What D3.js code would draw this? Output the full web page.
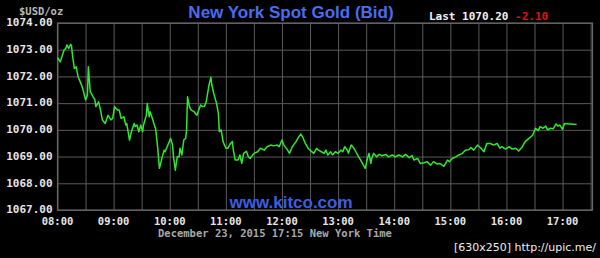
<!DOCTYPE html>
<html>
<head>
<meta charset="utf-8">
<script src="https://cdn.jsdelivr.net/npm/d3@7"></script>
<style>
  body { margin: 0; background: #000; }
  svg { display: block; }
  .mono { font-family: "DejaVu Sans Mono", monospace; font-weight: bold; }
</style>
</head>
<body>
<div id="chart"></div>
<script>
// Data (New York time, Dec 23 2015)
const times = [
  "08:00","08:03","08:07","08:09","08:10","08:12","08:14","08:15","08:16","08:18",
  "08:20","08:22","08:25","08:27","08:30","08:32","08:33","08:35","08:38","08:40",
  "08:41","08:44","08:46","08:48","08:51","08:54","08:57","08:59","09:01","09:04",
  "09:06","09:08","09:11","09:13","09:14","09:17","09:19","09:22","09:23","09:25",
  "09:27","09:29","09:31","09:32","09:35","09:36","09:38","09:39","09:42","09:43",
  "09:45","09:47","09:49","09:52","09:54","09:55","09:58","10:01","10:03","10:04",
  "10:06","10:08","10:10","10:11","10:13","10:15","10:17","10:18","10:19","10:21",
  "10:23","10:26","10:29","10:31","10:33","10:35","10:37","10:39","10:42","10:44",
  "10:45","10:47","10:50","10:52","10:53","10:55","10:57","11:00","11:02","11:05",
  "11:07","11:08","11:10","11:13","11:15","11:17","11:19","11:22","11:24","11:26",
  "11:30","11:34","11:37","11:41","11:44","11:48","11:51","11:55","11:57","12:00",
  "12:02","12:06","12:08","12:11","12:15","12:17","12:20","12:22","12:25","12:28",
  "12:30","12:34","12:37","12:39","12:42","12:45","12:47","12:49","12:52","12:54",
  "12:57","13:00","13:03","13:05","13:07","13:10","13:11","13:14","13:17","13:19",
  "13:22","13:25","13:27","13:29","13:31","13:33","13:35","13:36","13:38","13:41",
  "13:44","13:47","13:51","13:54","13:58","14:01","14:05","14:09","14:12","14:16",
  "14:19","14:21","14:25","14:28","14:32","14:35","14:39","14:42","14:46","14:49",
  "14:53","14:57","14:59","15:02","15:06","15:09","15:13","15:16","15:20","15:22",
  "15:25","15:29","15:32","15:36","15:39","15:43","15:46","15:50","15:53","15:55",
  "15:59","16:03","16:06","16:10","16:13","16:17","16:20","16:24","16:28","16:31",
  "16:34","16:36","16:39","16:42","16:44","16:47","16:50","16:53","16:55","16:57",
  "17:00","17:02","17:08","17:15"
];
const bids = [
  1072.70,1072.55,1072.99,1073.05,1073.18,1073.05,1073.20,1073.15,1072.80,1072.30,
  1072.36,1071.99,1071.74,1071.55,1071.12,1071.30,1072.36,1071.43,1071.24,1071.12,
  1070.87,1071.05,1070.74,1070.37,1070.24,1070.55,1070.37,1070.43,1070.87,1070.74,
  1070.74,1070.43,1070.49,1070.18,1070.24,1069.62,1069.93,1070.24,1070.12,1070.18,
  1069.93,1070.18,1069.93,1070.18,1070.55,1070.99,1070.49,1070.68,1070.37,1070.24,
  1070.03,1069.37,1068.56,1068.99,1069.24,1069.18,1069.43,1069.68,1069.43,1068.99,
  1068.49,1068.99,1068.99,1069.31,1069.06,1069.62,1069.68,1070.00,1071.24,1070.87,
  1070.74,1070.68,1070.55,1070.74,1070.93,1070.87,1070.87,1071.05,1071.68,1071.97,
  1071.68,1071.37,1071.00,1070.62,1069.93,1070.00,1069.56,1069.31,1069.31,1069.49,
  1069.56,1069.24,1068.87,1068.87,1069.06,1068.75,1069.12,1069.20,1068.99,1068.93,
  1069.12,1069.18,1069.31,1069.24,1069.37,1069.43,1069.40,1069.43,1069.37,1069.62,
  1069.43,1069.24,1069.12,1069.37,1069.56,1069.68,1069.84,1069.74,1069.49,1069.31,
  1069.24,1069.12,1069.31,1069.24,1069.18,1069.12,1069.24,1069.06,1069.18,1069.06,
  1069.18,1069.12,1069.24,1069.18,1069.37,1069.24,1069.12,1069.43,1069.31,1069.18,
  1068.99,1068.81,1068.68,1068.56,1068.87,1069.12,1068.75,1068.93,1069.12,1068.99,
  1069.08,1069.03,1069.08,1068.99,1069.06,1068.99,1069.06,1068.99,1069.08,1068.96,
  1069.04,1068.87,1068.93,1068.74,1068.77,1068.81,1068.68,1068.81,1068.72,1068.74,
  1068.63,1068.87,1068.81,1068.93,1068.99,1069.06,1069.12,1069.24,1069.26,1069.34,
  1069.24,1069.43,1069.34,1069.18,1069.49,1069.49,1069.43,1069.49,1069.31,1069.37,
  1069.28,1069.37,1069.28,1069.31,1069.21,1069.37,1069.56,1069.68,1069.80,1070.06,
  1069.97,1070.12,1070.06,1070.14,1070.00,1070.06,1070.04,1070.22,1070.14,1070.18,
  1070.02,1070.24,1070.22,1070.20
];
const yTicks = [1067, 1068, 1069, 1070, 1071, 1072, 1073, 1074];
const hourTicks = ["08:00","09:00","10:00","11:00","12:00","13:00","14:00","15:00","16:00","17:00"];
const axisStart = "08:00";
const axisEnd = "17:32";
const lastBid = "1070.20";
const change = "-2.10";

const W = 600, H = 258;
const margin = { top: 23, right: 7.5, bottom: 48, left: 57.5 };

const parseTime = d3.timeParse("%Y-%m-%d %H:%M");
const t = s => parseTime("2015-12-23 " + s);
const data = times.map((s, i) => ({ date: t(s), value: bids[i] }));

const svg = d3.select("#chart")
  .append("svg")
  .attr("width", W)
  .attr("height", H)
  .style("background", "#000");

const x = d3.scaleTime()
  .domain([t(axisStart), t(axisEnd)])
  .range([margin.left, W - margin.right]);

const y = d3.scaleLinear()
  .domain([1067, 1074])
  .range([H - margin.bottom, margin.top]);

// grid: half hour verticals
svg.append("g")
  .attr("transform", `translate(0, ${H - margin.bottom})`)
  .call(d3.axisBottom(x)
    .ticks(d3.timeMinute.every(30))
    .tickSize(-(H - margin.bottom - margin.top))
    .tickFormat(""))
  .call(g => g.select(".domain").remove())
  .call(g => g.selectAll("line").attr("stroke", "#5a5a5a").attr("stroke-width", 1));

// grid: horizontal
svg.append("g")
  .attr("transform", `translate(${margin.left}, 0)`)
  .call(d3.axisLeft(y)
    .tickValues(yTicks)
    .tickSize(-(W - margin.left - margin.right))
    .tickFormat(""))
  .call(g => g.select(".domain").remove())
  .call(g => g.selectAll("line").attr("stroke", "#5a5a5a").attr("stroke-width", 1));

// frame
svg.append("rect")
  .attr("x", margin.left)
  .attr("y", margin.top)
  .attr("width", W - margin.left - margin.right)
  .attr("height", H - margin.bottom - margin.top)
  .attr("fill", "none")
  .attr("stroke", "#666")
  .attr("stroke-width", 1.2);

// y labels
svg.append("g")
  .selectAll("text")
  .data(yTicks)
  .join("text")
  .attr("class", "mono")
  .attr("x", margin.left - 5)
  .attr("y", d => y(d))
  .attr("dy", "0.3em")
  .attr("text-anchor", "end")
  .attr("font-size", 11)
  .attr("fill", "#e6e6e6")
  .text(d => d3.format(".2f")(d));

// x labels
svg.append("g")
  .selectAll("text")
  .data(hourTicks)
  .join("text")
  .attr("class", "mono")
  .attr("x", d => x(t(d)))
  .attr("y", 221.5)
  .attr("dy", "0.35em")
  .attr("text-anchor", "middle")
  .attr("font-size", 10.5)
  .attr("fill", "#e6e6e6")
  .text(d => d);

// watermark
svg.append("text")
  .attr("x", 291)
  .attr("y", 208)
  .attr("text-anchor", "middle")
  .style("font-family", "'Liberation Sans', Arial, sans-serif")
  .style("font-weight", "bold")
  .style("font-size", "17px")
  .attr("fill", "#3a5fe0")
  .text("www.kitco.com");

// price line
const line = d3.line()
  .x(d => x(d.date))
  .y(d => y(d.value));

svg.append("path")
  .datum(data)
  .attr("fill", "none")
  .attr("stroke", "#2ee82e")
  .attr("stroke-width", 1.5)
  .attr("stroke-linejoin", "round")
  .attr("d", line);

// title
svg.append("text")
  .attr("x", 291)
  .attr("y", 18)
  .attr("text-anchor", "middle")
  .style("font-family", "'Liberation Sans', Arial, sans-serif")
  .style("font-weight", "bold")
  .style("font-size", "17px")
  .attr("fill", "#4a6cf0")
  .text("New York Spot Gold (Bid)");

// unit
svg.append("text")
  .attr("class", "mono")
  .attr("x", 19)
  .attr("y", 11)
  .attr("dy", "0.35em")
  .attr("font-size", 10.5)
  .attr("fill", "#b8b8b8")
  .text("$USD/oz");

// last price
const last = svg.append("text")
  .attr("class", "mono")
  .attr("x", 429)
  .attr("y", 16)
  .attr("dy", "0.35em")
  .attr("font-size", 11);
last.append("tspan").attr("fill", "#f2f2f2").text(`Last ${lastBid} `);
last.append("tspan").attr("fill", "#e01010").text(change);

// timestamp
svg.append("text")
  .attr("class", "mono")
  .attr("x", 158)
  .attr("y", 233.5)
  .attr("dy", "0.35em")
  .attr("font-size", 10.5)
  .attr("fill", "#a8a8a8")
  .text("December 23, 2015 17:15 New York Time");

// host stamp
svg.append("text")
  .attr("x", 596)
  .attr("y", 251)
  .attr("text-anchor", "end")
  .style("font-family", "'DejaVu Sans', sans-serif")
  .style("font-size", "11px")
  .attr("fill", "#eeeeee")
  .text("[630x250] http://upic.me/");
</script>
</body>
</html>
